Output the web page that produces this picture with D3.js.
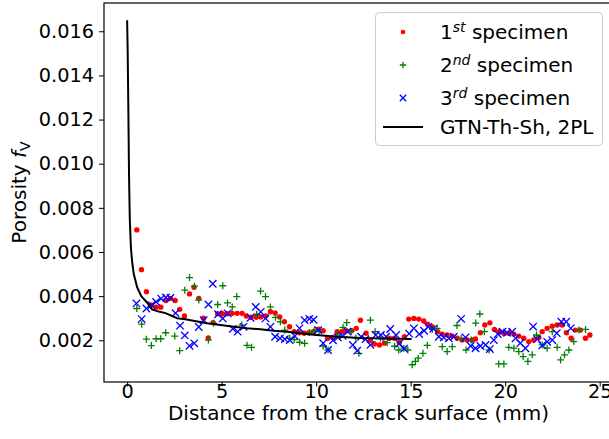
<!DOCTYPE html>
<html>
<head>
<meta charset="utf-8">
<script src="https://cdn.jsdelivr.net/npm/d3@7"></script>
<style>
body{margin:0;background:#fff;}
</style>
</head>
<body>
<script>
// 1st specimen (red dots): [distance mm, porosity]
var spec1=[[0.51,.0070],[0.76,.0052],[1.02,.0042],[1.28,.0036],[1.53,.0035],[1.78,.0035],[2.06,.0038],[2.29,.0039],[2.54,.0038],[2.78,.0034],
[3.03,.0031],[3.30,.0041],[3.54,.0044],[3.79,.0039],[4.04,.0030],[4.29,.0021],[4.55,.0028],[4.79,.0032],[5.04,.0032],[5.29,.0032],
[5.56,.00322],[5.82,.00322],[6.08,.00322],[6.31,.0031],[6.56,.00304],[6.83,.00304],[7.07,.00306],[7.33,.0031],[7.58,.00329],[7.83,.00324],
[8.07,.00306],[8.32,.00284],[8.59,.00261],[8.84,.00239],[9.10,.00234],[9.37,.00232],[9.61,.00234],[9.87,.0024],[10.12,.0025],[10.37,.00243],
[10.61,.00209],[10.88,.00213],[11.11,.00239],[11.36,.00239],[11.60,.00243],[11.87,.00243],[12.12,.00254],[12.34,.00291],[12.64,.00232],[12.86,.0020],
[13.08,.00183],[13.35,.00179],[13.61,.00187],[13.88,.00209],[14.14,.00209],[14.40,.0019],[14.67,.00216],[14.90,.00296],[15.17,.00299],[15.43,.00296],
[15.69,.00287],[15.90,.00273],[16.14,.00261],[16.43,.00239],[16.67,.00228],[16.93,.00224],[17.20,.00219],[17.46,.00209],[17.72,.00201],[17.99,.00201],
[18.25,.00201],[18.43,.00206],[18.69,.00234],[18.92,.00269],[19.19,.00279],[19.43,.00249],[19.68,.00239],[19.93,.00232],[20.19,.00232],[20.46,.00228],
[20.72,.00219],[20.98,.00209],[21.25,.00194],[21.51,.00201],[21.78,.00213],[21.96,.00239],[22.22,.00254],[22.49,.00264],[22.75,.00269],[23.02,.00269],
[23.24,.00234],[23.49,.00209],[23.72,.00246],[23.98,.00246],[24.25,.00209],[24.48,.00224]];

// 2nd specimen (green plus)
var spec2=[[0.51,.00344],[0.77,.00273],[1.02,.00205],[1.28,.00176],[1.53,.00207],[1.78,.00207],[2.04,.00234],[2.52,.00219],[2.78,.00153],[3.05,.00427],
[3.30,.00484],[3.56,.00445],[3.79,.00382],[4.30,.00201],[4.57,.00277],[4.79,.00362],[5.06,.00447],[5.31,.00369],[5.56,.00351],[5.80,.00398],
[6.07,.00269],[6.34,.00177],[6.58,.00168],[6.85,.00318],[7.06,.00423],[7.32,.00398],[7.58,.00351],[7.85,.00304],[8.11,.00284],[8.34,.00246],
[8.60,.00209],[8.84,.00203],[9.13,.00191],[9.39,.00186],[9.64,.00235],[9.90,.00245],[10.15,.00240],[10.37,.00174],[10.63,.00156],[11.14,.00228],
[11.42,.00258],[11.62,.00280],[11.85,.00240],[12.10,.0021],[12.26,.00141],[12.87,.00291],[13.12,.00239],[13.40,.0021],[13.76,.00189],[14.15,.00173],
[14.37,.00156],[14.64,.00164],[14.85,.00156],[15.08,.00089],[15.25,.00104],[15.40,.00119],[15.65,.00141],[15.88,.00177],[16.15,.00250],[16.40,.00254],
[16.67,.00171],[16.93,.00149],[17.20,.00171],[17.45,.00267],[17.67,.00209],[17.93,.00156],[18.20,.00201],[18.44,.00278],[18.66,.00319],[18.90,.00239],
[19.15,.00156],[19.66,.00093],[19.93,.00093],[20.19,.00168],[20.46,.00164],[20.72,.00149],[20.95,.00126],[21.20,.00104],[21.43,.00134],[21.66,.00224],
[21.96,.00179],[22.22,.00164],[22.49,.00239],[22.75,.00168],[22.93,.00111],[23.14,.00134],[23.37,.00156],[23.63,.00194],[23.90,.00246],[24.25,.00249]];

// 3rd specimen (blue cross)
var spec3=[[0.49,.00367],[0.77,.00296],[1.02,.00344],[1.29,.00359],[1.53,.00374],[1.80,.00389],[2.05,.00394],[2.29,.00392],[2.56,.00323],[2.80,.00266],
[3.05,.00222],[3.30,.00175],[3.55,.00186],[3.79,.00260],[4.05,.00291],[4.30,.00362],[4.53,.00456],[4.81,.00318],[5.06,.00299],[5.32,.00322],
[5.59,.00252],[5.85,.00239],[6.16,.00261],[6.53,.00302],[6.80,.00351],[7.07,.00329],[7.32,.00299],[7.58,.00261],[7.83,.00216],[8.09,.00209],
[8.34,.00205],[8.60,.00201],[8.87,.00219],[9.12,.00254],[9.39,.00291],[9.64,.00297],[9.86,.00293],[10.11,.00246],[10.37,.00187],[10.63,.00156],
[10.89,.00200],[11.15,.00213],[11.40,.00220],[11.66,.00239],[11.94,.00179],[12.17,.00153],[12.38,.00216],[12.61,.00205],[12.87,.00179],[13.15,.00224],
[13.42,.00224],[13.70,.00216],[13.92,.00251],[14.23,.00224],[14.40,.00185],[14.65,.00162],[14.92,.00230],[15.17,.00254],[15.45,.00228],[15.71,.00243],
[15.93,.00261],[16.20,.00252],[16.49,.00216],[16.75,.00213],[17.02,.00209],[17.28,.00216],[17.67,.00297],[17.90,.00213],[18.17,.00174],[18.43,.00164],
[18.69,.00174],[18.96,.00179],[19.19,.00160],[19.40,.00201],[19.61,.00228],[19.86,.00239],[20.10,.00234],[20.37,.00239],[20.55,.00209],[20.80,.00187],
[21.07,.00164],[21.48,.00262],[21.69,.00205],[21.96,.00177],[22.22,.00193],[22.49,.00201],[22.73,.00232],[22.97,.00284],[23.23,.00284],[23.47,.00254]];

// GTN-Th-Sh, 2PL simulation curve
var model=[[0.00,.0165],[0.03,.0150],[0.06,.0128],[0.10,.0095],[0.14,.0075],[0.20,.0062],[0.26,.0056],[0.35,.0050],[0.53,.0044],[0.75,.0040],
[1.06,.0037],[1.32,.0034],[1.67,.0033],[2.03,.00323],[2.38,.0031],[2.65,.0030],[3.08,.00295],[3.50,.00288],[4.23,.00277],[4.94,.00269],
[5.64,.00261],[6.35,.00254],[7.05,.0025],[7.76,.00243],[8.47,.00239],[9.17,.00232],[9.87,.00225],[10.93,.00217],[12.34,.00210],[13.50,.00208],[15.05,.00206]];

var xTicks=[0,5,10,15,20,25];
var yTicks=[0.002,0.004,0.006,0.008,0.010,0.012,0.014,0.016];

var width=609, height=439;
var mLeft=104, mTop=3, plotW=509, plotH=379;
var font="DejaVu Sans";
var fs=20, tfs=19.3;

var svg=d3.select("body").append("svg")
          .attr("width",width)
          .attr("height",height)
          .style("display","block");

var all=spec1.concat(spec2,spec3,model);
var xe=d3.extent(all,function(d){return d[0];});
var ye=d3.extent(all,function(d){return d[1];});
var xp=(xe[1]-xe[0])*0.05, yp=(ye[1]-ye[0])*0.05;

var x=d3.scaleLinear().domain([xe[0]-xp,xe[1]+xp]).range([mLeft,mLeft+plotW]);
var y=d3.scaleLinear().domain([ye[0]-yp,ye[1]+yp]).range([mTop+plotH,mTop]);

// axes
var xAxis=svg.append("g")
   .attr("transform","translate(0,"+(mTop+plotH)+")")
   .call(d3.axisBottom(x).tickValues(xTicks).tickSize(4.5).tickPadding(-2).tickFormat(d3.format("d")));
var yAxis=svg.append("g")
   .attr("transform","translate("+mLeft+",0)")
   .call(d3.axisLeft(y).tickValues(yTicks).tickSize(5).tickPadding(5).tickFormat(d3.format(".3f")));
[xAxis,yAxis].forEach(function(a){
  a.select(".domain").remove();
  a.selectAll("line").attr("stroke","#000").attr("stroke-width",1);
  a.selectAll("text").attr("fill","#000").attr("font-size",tfs).attr("font-family",font);
});

// frame
svg.append("rect")
   .attr("x",mLeft).attr("y",mTop)
   .attr("width",plotW).attr("height",plotH)
   .attr("fill","none").attr("stroke","#000").attr("stroke-width",1.2);

// markers
svg.append("g").selectAll("circle")
   .data(spec1).enter().append("circle")
   .attr("cx",function(d){return x(d[0]);})
   .attr("cy",function(d){return y(d[1]);})
   .attr("r",2.7)
   .attr("fill","#ff0000");

var pl=3.5;
svg.append("g").selectAll("path")
   .data(spec2).enter().append("path")
   .attr("d",function(d){
     var cx=x(d[0]), cy=y(d[1]);
     return "M"+(cx-pl)+","+cy+"H"+(cx+pl)+"M"+cx+","+(cy-pl)+"V"+(cy+pl);
   })
   .attr("stroke","#008000").attr("stroke-width",1.3).attr("fill","none");

var cr=3.7;
svg.append("g").selectAll("path")
   .data(spec3).enter().append("path")
   .attr("d",function(d){
     var cx=x(d[0]), cy=y(d[1]);
     return "M"+(cx-cr)+","+(cy-cr)+"L"+(cx+cr)+","+(cy+cr)+"M"+(cx-cr)+","+(cy+cr)+"L"+(cx+cr)+","+(cy-cr);
   })
   .attr("stroke","#0000ff").attr("stroke-width",1.3).attr("fill","none");

var line=d3.line().x(function(d){return x(d[0]);}).y(function(d){return y(d[1]);});
svg.append("path")
   .datum(model)
   .attr("d",line)
   .attr("fill","none").attr("stroke","#000").attr("stroke-width",2);

// axis labels
svg.append("text")
   .attr("x",mLeft+plotW/2).attr("y",420)
   .attr("text-anchor","middle")
   .attr("font-size",fs).attr("font-family",font)
   .text("Distance from the crack surface (mm)");

var yl=svg.append("text")
   .attr("transform","translate(26,"+(mTop+plotH/2)+") rotate(-90)")
   .attr("text-anchor","middle")
   .attr("font-size",fs).attr("font-family",font);
yl.append("tspan").text("Porosity ");
yl.append("tspan").attr("font-style","italic").text("f");
yl.append("tspan").attr("font-size",14).attr("dy",4).text("V");

// legend
var legend=svg.append("g");
legend.append("rect")
   .attr("x",375.5).attr("y",12.5)
   .attr("width",227).attr("height",133)
   .attr("rx",4)
   .attr("fill","#fff").attr("fill-opacity",0.8)
   .attr("stroke","#cccccc").attr("stroke-width",1);

var labels=[["1","st"," specimen"],["2","nd"," specimen"],["3","rd"," specimen"],["GTN-Th-Sh, 2PL","",""]];
var rowY=[32,65,98,127];
var mx=403;

legend.append("circle").attr("cx",mx).attr("cy",rowY[0]).attr("r",2.3).attr("fill","#ff0000");
legend.append("path")
   .attr("d","M"+(mx-3.2)+","+rowY[1]+"H"+(mx+3.2)+"M"+mx+","+(rowY[1]-3.2)+"V"+(rowY[1]+3.2))
   .attr("stroke","#008000").attr("stroke-width",1.3);
legend.append("path")
   .attr("d","M"+(mx-3.2)+","+(rowY[2]-3.2)+"L"+(mx+3.2)+","+(rowY[2]+3.2)+"M"+(mx-3.2)+","+(rowY[2]+3.2)+"L"+(mx+3.2)+","+(rowY[2]-3.2))
   .attr("stroke","#0000ff").attr("stroke-width",1.3);
legend.append("line")
   .attr("x1",383).attr("x2",423).attr("y1",rowY[3]).attr("y2",rowY[3])
   .attr("stroke","#000").attr("stroke-width",2);

labels.forEach(function(l,i){
  var t=legend.append("text")
     .attr("x",440).attr("y",rowY[i]+7)
     .attr("font-size",fs).attr("font-family",font).attr("fill","#000");
  t.append("tspan").text(l[0]);
  if(l[1]){
    t.append("tspan").attr("font-size",14).attr("font-style","italic").attr("dy",-7.5).text(l[1]);
    t.append("tspan").attr("dy",7.5).text(l[2]);
  }
});
</script>
</body>
</html>
